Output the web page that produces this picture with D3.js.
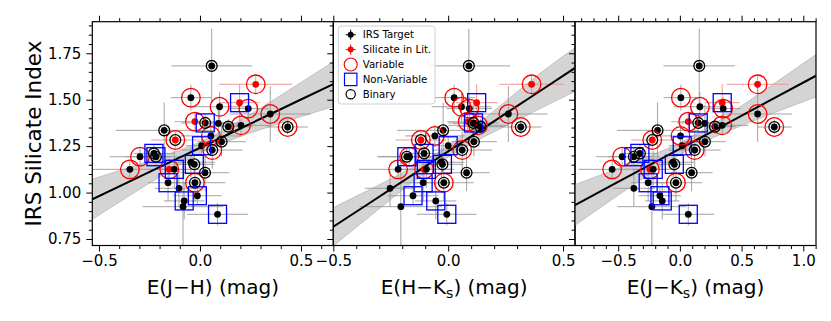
<!DOCTYPE html>
<html>
<head>
<meta charset="utf-8">
<script src="https://cdn.jsdelivr.net/npm/d3@7"></script>
<style>
  body { margin: 0; background: #fff; }
  svg text { font-family: "DejaVu Sans", sans-serif; fill: #000; }
</style>
</head>
<body>
<div id="chart"></div>
<script>
// ── Data ───────────────────────────────────────────────────────────────────
// one entry per star, same order in every array
const silIndex = [1.682, 1.583, 1.511, 1.484, 1.452, 1.462, 1.423, 1.382, 1.375, 1.373,
                  1.355, 1.362, 1.353, 1.335, 1.283, 1.305, 1.274, 1.252, 1.229, 1.193,
                  1.211, 1.193, 1.125, 1.125, 1.125, 1.163, 1.152, 1.107, 1.053, 1.053,
                  1.023, 0.983, 0.955, 0.924, 0.883];
const silErr   = [0.20, 0.05, 0.07, 0.10, 0.06, 0.08, 0.15, 0.05, 0.05, 0.10,
                  0.04, 0.05, 0.04, 0.15, 0.05, 0.06, 0.08, 0.05, 0.10, 0.05,
                  0.05, 0.05, 0.05, 0.05, 0.10, 0.08, 0.05, 0.10, 0.10, 0.10,
                  0.10, 0.05, 0.10, 0.26, 0.06];

const eJH    = [0.058, 0.276, -0.045, 0.196, 0.239, 0.097, 0.348, -0.025, 0.026, 0.091,
                0.140, 0.203, 0.434, -0.177, -0.122, 0.054, 0.107, 0.008, 0.061, -0.297,
                -0.228, -0.218, -0.347, -0.152, -0.127, -0.045, -0.028, 0.025, -0.025, -0.158,
                -0.104, -0.013, -0.078, -0.084, 0.087];
const eJHerr = [0.20, 0.18, 0.10, 0.10, 0.10, 0.15, 0.20, 0.10, 0.12, 0.10,
                0.12, 0.15, 0.10, 0.24, 0.12, 0.15, 0.12, 0.08, 0.15, 0.15,
                0.10, 0.15, 0.20, 0.15, 0.12, 0.12, 0.10, 0.12, 0.15, 0.10,
                0.12, 0.12, 0.10, 0.20, 0.15];

const eHK    = [0.090, 0.363, 0.026, 0.124, 0.092, 0.058, 0.262, 0.085, 0.110, 0.109,
                0.140, 0.130, 0.316, -0.022, -0.119, -0.058, 0.112, 0.000, 0.061, -0.170,
                -0.105, -0.180, -0.218, -0.105, -0.095, -0.029, -0.025, 0.080, -0.019, -0.109,
                -0.253, -0.153, -0.054, -0.206, -0.006];
const eHKerr = [0.18, 0.14, 0.09, 0.09, 0.10, 0.13, 0.17, 0.09, 0.11, 0.09,
                0.10, 0.13, 0.09, 0.20, 0.11, 0.13, 0.10, 0.07, 0.13, 0.13,
                0.09, 0.13, 0.17, 0.13, 0.11, 0.10, 0.09, 0.10, 0.13, 0.09,
                0.11, 0.11, 0.09, 0.18, 0.13];

const eJK    = [0.157, 0.630, 0.008, 0.343, 0.351, 0.162, 0.630, 0.068, 0.149, 0.203,
                0.284, 0.343, 0.765, -0.181, -0.224, 0.005, 0.203, 0.019, 0.120, -0.468,
                -0.324, -0.373, -0.549, -0.243, -0.216, -0.054, -0.045, 0.095, -0.032, -0.257,
                -0.373, -0.162, -0.143, -0.227, 0.068];
const eJKerr = [0.29, 0.25, 0.14, 0.14, 0.14, 0.21, 0.28, 0.14, 0.17, 0.14,
                0.17, 0.21, 0.14, 0.33, 0.17, 0.21, 0.17, 0.11, 0.21, 0.21,
                0.14, 0.21, 0.27, 0.21, 0.17, 0.17, 0.14, 0.17, 0.21, 0.14,
                0.17, 0.17, 0.14, 0.28, 0.21];

// 1 = flag set
const litFlag    = [0,1,0,1,0,0,0,1,0,0, 0,0,0,0,1,0,0,0,0,0, 0,0,0,1,0,0,0,0,0,0, 0,0,0,0,0];
const varFlag    = [0,1,1,0,1,1,1,1,0,0, 0,1,1,0,1,1,0,0,1,1, 0,0,1,1,0,0,0,0,1,0, 0,0,0,0,0];
const nonVarFlag = [0,0,0,1,0,0,0,0,1,0, 0,0,0,0,0,0,0,1,0,0, 1,1,0,0,1,0,1,0,0,1, 0,1,1,0,1];
const binFlag    = [1,0,0,0,0,0,0,0,1,0, 1,0,1,1,1,0,1,0,1,0, 1,1,0,0,0,0,1,1,1,0, 0,0,0,0,0];

// linear fits with confidence bands
const fitJHx  = [-0.533, -0.35, -0.2, -0.05, 0.05, 0.2, 0.35, 0.5, 0.66];
const fitJHy  = [0.964, 1.059, 1.137, 1.215, 1.267, 1.345, 1.423, 1.501, 1.584];
const fitJHlo = [0.856, 0.983, 1.085, 1.182, 1.237, 1.302, 1.357, 1.409, 1.464];
const fitJHhi = [1.072, 1.135, 1.189, 1.249, 1.297, 1.389, 1.489, 1.593, 1.704];

const fitHKx  = [-0.5, -0.35, -0.2, -0.05, 0.1, 0.25, 0.4, 0.552];
const fitHKy  = [0.816, 0.937, 1.059, 1.181, 1.303, 1.425, 1.547, 1.671];
const fitHKlo = [0.713, 0.863, 1.012, 1.151, 1.263, 1.359, 1.452, 1.545];
const fitHKhi = [0.919, 1.011, 1.106, 1.211, 1.344, 1.491, 1.642, 1.780];

const fitJKx  = [-0.85, -0.55, -0.3, -0.05, 0.15, 0.4, 0.7, 1.103];
const fitJKy  = [0.933, 1.040, 1.129, 1.218, 1.289, 1.378, 1.485, 1.629];
const fitJKlo = [0.824, 0.963, 1.076, 1.184, 1.259, 1.333, 1.413, 1.515];
const fitJKhi = [1.042, 1.118, 1.182, 1.252, 1.320, 1.423, 1.558, 1.743];

// axes
const yDomain = [0.715, 1.92];
const yMajor = [0.75, 1.0, 1.25, 1.5, 1.75];
const legendItems = ["IRS Target", "Silicate in Lit.", "Variable", "Non-Variable", "Binary"];

function renderSilicatePanels(selector) {
  // ── Container ──────────────────────────────────────────────────────────
  const container = d3.select(selector);
  container.selectAll("*").remove();

  const W = 831, H = 321;
  const top = 21.7, bottom = 245.5;

  const svg = container.append("svg")
    .attr("width", W)
    .attr("height", H)
    .attr("viewBox", `0 0 ${W} ${H}`);

  const yScale = d3.scaleLinear().domain(yDomain).range([bottom, top]);

  const panels = [
    { id: "jh", x: eJH, xerr: eJHerr, domain: [-0.533, 0.66], left: 92.3, right: 333.3,
      major: [-0.5, 0, 0.5], fit: [fitJHx, fitJHy, fitJHlo, fitJHhi],
      label: ["E(J−H) (mag)"] },
    { id: "hk", x: eHK, xerr: eHKerr, domain: [-0.5, 0.552], left: 333.3, right: 575,
      major: [-0.5, 0, 0.5], fit: [fitHKx, fitHKy, fitHKlo, fitHKhi],
      label: ["E(H−K", "s", ") (mag)"] },
    { id: "jk", x: eJK, xerr: eJKerr, domain: [-0.85, 1.103], left: 575, right: 816,
      major: [-0.5, 0, 0.5, 1.0], fit: [fitJKx, fitJKy, fitJKlo, fitJKhi],
      label: ["E(J−K", "s", ") (mag)"] },
  ];

  const stars = silIndex.map((y, i) => ({
    i, y, yerr: silErr[i],
    lit: litFlag[i], vari: varFlag[i], nonvar: nonVarFlag[i], bin: binFlag[i],
  }));

  const yMinor = d3.range(0.75, 1.92, 0.05).map((v) => +v.toFixed(2))
    .filter((v) => !yMajor.includes(v));

  panels.forEach((p, pi) => {
    const xScale = d3.scaleLinear().domain(p.domain).range([p.left, p.right]);
    const g = svg.append("g").attr("class", `panel panel-${p.id}`);

    // ── Clip ─────────────────────────────────────────────────────────────
    svg.append("clipPath").attr("id", `clip-${p.id}`)
      .append("rect")
      .attr("x", p.left).attr("y", top)
      .attr("width", p.right - p.left).attr("height", bottom - top);

    const plot = g.append("g").attr("clip-path", `url(#clip-${p.id})`);

    // ── Fit band + line ──────────────────────────────────────────────────
    const [fx, fy, flo, fhi] = p.fit;
    const fitData = fx.map((x, k) => ({ x, y: fy[k], lo: flo[k], hi: fhi[k] }));

    plot.append("path")
      .datum(fitData)
      .attr("d", d3.area()
        .x((d) => xScale(d.x))
        .y0((d) => yScale(d.lo))
        .y1((d) => yScale(d.hi))
        .curve(d3.curveMonotoneX))
      .attr("fill", "#d4d4d4")
      .attr("stroke", "#b8b8b8")
      .attr("stroke-width", 0.8);

    // ── Error bars ───────────────────────────────────────────────────────
    const eb = plot.append("g").attr("class", "errorbars");
    stars.forEach((s) => {
      const cx = xScale(p.x[s.i]), cy = yScale(s.y);
      const col = s.lit ? "#f08a8a" : "#999";
      eb.append("line")
        .attr("x1", xScale(p.x[s.i] - p.xerr[s.i])).attr("x2", xScale(p.x[s.i] + p.xerr[s.i]))
        .attr("y1", cy).attr("y2", cy)
        .attr("stroke", col).attr("stroke-width", 0.9);
      eb.append("line")
        .attr("x1", cx).attr("x2", cx)
        .attr("y1", yScale(s.y - s.yerr)).attr("y2", yScale(s.y + s.yerr))
        .attr("stroke", col).attr("stroke-width", 0.9);
    });

    plot.append("path")
      .datum(fitData)
      .attr("d", d3.line().x((d) => xScale(d.x)).y((d) => yScale(d.y)))
      .attr("fill", "none")
      .attr("stroke", "#000")
      .attr("stroke-width", 2);

    // ── Dots ─────────────────────────────────────────────────────────────
    plot.selectAll(".dot")
      .data(stars)
      .join("circle")
      .attr("class", "dot")
      .attr("cx", (d) => xScale(p.x[d.i]))
      .attr("cy", (d) => yScale(d.y))
      .attr("r", 3.4)
      .attr("fill", (d) => (d.lit ? "#ff0000" : "#000"));

    // ── Class markers ────────────────────────────────────────────────────
    plot.selectAll(".var")
      .data(stars.filter((d) => d.vari))
      .join("circle")
      .attr("class", "var")
      .attr("cx", (d) => xScale(p.x[d.i]))
      .attr("cy", (d) => yScale(d.y))
      .attr("r", 9.3)
      .attr("fill", "none")
      .attr("stroke", "#ff0000")
      .attr("stroke-width", 1.3);

    plot.selectAll(".nonvar")
      .data(stars.filter((d) => d.nonvar))
      .join("rect")
      .attr("class", "nonvar")
      .attr("x", (d) => xScale(p.x[d.i]) - 9)
      .attr("y", (d) => yScale(d.y) - 9)
      .attr("width", 18)
      .attr("height", 18)
      .attr("fill", "none")
      .attr("stroke", "#0000ff")
      .attr("stroke-width", 1.3);

    plot.selectAll(".bin")
      .data(stars.filter((d) => d.bin))
      .join("circle")
      .attr("class", "bin")
      .attr("cx", (d) => xScale(p.x[d.i]))
      .attr("cy", (d) => yScale(d.y))
      .attr("r", 5.4)
      .attr("fill", "none")
      .attr("stroke", "#000")
      .attr("stroke-width", 1.3);

    // ── Axes ─────────────────────────────────────────────────────────────
    const xMinor = d3.range(Math.ceil(p.domain[0] * 10), Math.floor(p.domain[1] * 10) + 1)
      .map((v) => v / 10)
      .filter((v) => !p.major.some((m) => Math.abs(m - v) < 1e-6));

    const styleAxis = (sel) => {
      sel.select(".domain").remove();
      sel.selectAll("line").attr("stroke", "#000").attr("stroke-width", 1);
      sel.selectAll("text").style("font-size", "15px");
    };

    g.append("g").attr("transform", `translate(0,${bottom})`)
      .call(d3.axisBottom(xScale).tickValues(p.major).tickSize(6).tickPadding(4)
        .tickFormat(d3.format(".1f")))
      .call(styleAxis);
    g.append("g").attr("transform", `translate(0,${bottom})`)
      .call(d3.axisBottom(xScale).tickValues(xMinor).tickSize(3.5).tickFormat(""))
      .call(styleAxis);
    g.append("g").attr("transform", `translate(0,${top})`)
      .call(d3.axisTop(xScale).tickValues(p.major).tickSize(6).tickFormat(""))
      .call(styleAxis);
    g.append("g").attr("transform", `translate(0,${top})`)
      .call(d3.axisTop(xScale).tickValues(xMinor).tickSize(3.5).tickFormat(""))
      .call(styleAxis);

    g.append("g").attr("transform", `translate(${p.left},0)`)
      .call(d3.axisLeft(yScale).tickValues(yMajor).tickSize(6).tickPadding(5)
        .tickFormat(pi === 0 ? d3.format(".2f") : ""))
      .call(styleAxis);
    g.append("g").attr("transform", `translate(${p.left},0)`)
      .call(d3.axisLeft(yScale).tickValues(yMinor).tickSize(3.5).tickFormat(""))
      .call(styleAxis);

    // ── Spines ───────────────────────────────────────────────────────────
    g.append("rect")
      .attr("x", p.left).attr("y", top)
      .attr("width", p.right - p.left).attr("height", bottom - top)
      .attr("fill", "none")
      .attr("stroke", "#000")
      .attr("stroke-width", 1.2);

    // ── X label ──────────────────────────────────────────────────────────
    const lab = svg.append("text")
      .attr("x", (p.left + p.right) / 2)
      .attr("y", 294)
      .attr("text-anchor", "middle")
      .style("font-size", "20px");
    if (p.label.length === 1) {
      lab.text(p.label[0]);
    } else {
      lab.append("tspan").text(p.label[0]);
      lab.append("tspan").attr("dy", 4).style("font-size", "14px").text(p.label[1]);
      lab.append("tspan").attr("dy", -4).text(p.label[2]);
    }

    // ── Legend (middle panel) ────────────────────────────────────────────
    if (pi === 1) {
      const lg = svg.append("g").attr("class", "legend");
      lg.append("rect")
        .attr("x", 338.3).attr("y", 26)
        .attr("width", 96.7).attr("height", 78)
        .attr("rx", 3)
        .attr("fill", "#fff").attr("fill-opacity", 0.85)
        .attr("stroke", "#d0d0d0").attr("stroke-width", 1);

      legendItems.forEach((name, k) => {
        const row = lg.append("g").attr("transform", `translate(350.7, ${34.7 + k * 14.9})`);
        if (k < 2) {
          const c = k === 0 ? "#000" : "#ff0000";
          row.append("line").attr("x1", -5).attr("x2", 5).attr("stroke", c).attr("stroke-width", 1);
          row.append("line").attr("y1", -5).attr("y2", 5).attr("stroke", c).attr("stroke-width", 1);
          row.append("circle").attr("r", 3).attr("fill", c);
        } else if (k === 2) {
          row.append("circle").attr("r", 6.5).attr("fill", "none")
            .attr("stroke", "#ff0000").attr("stroke-width", 1.2);
        } else if (k === 3) {
          row.append("rect").attr("x", -6.2).attr("y", -6.2).attr("width", 12.4).attr("height", 12.4)
            .attr("fill", "none").attr("stroke", "#0000ff").attr("stroke-width", 1.2);
        } else {
          row.append("circle").attr("r", 4.6).attr("fill", "none")
            .attr("stroke", "#000").attr("stroke-width", 1.2);
        }
        row.append("text")
          .attr("x", 12).attr("y", 3.6)
          .style("font-size", "10.2px")
          .text(name);
      });
    }
  });

  // ── Y label ──────────────────────────────────────────────────────────────
  svg.append("text")
    .attr("transform", `translate(41,${(top + bottom) / 2}) rotate(-90)`)
    .attr("text-anchor", "middle")
    .style("font-size", "21.5px")
    .text("IRS Silicate Index");
}

renderSilicatePanels("#chart");
</script>
</body>
</html>
